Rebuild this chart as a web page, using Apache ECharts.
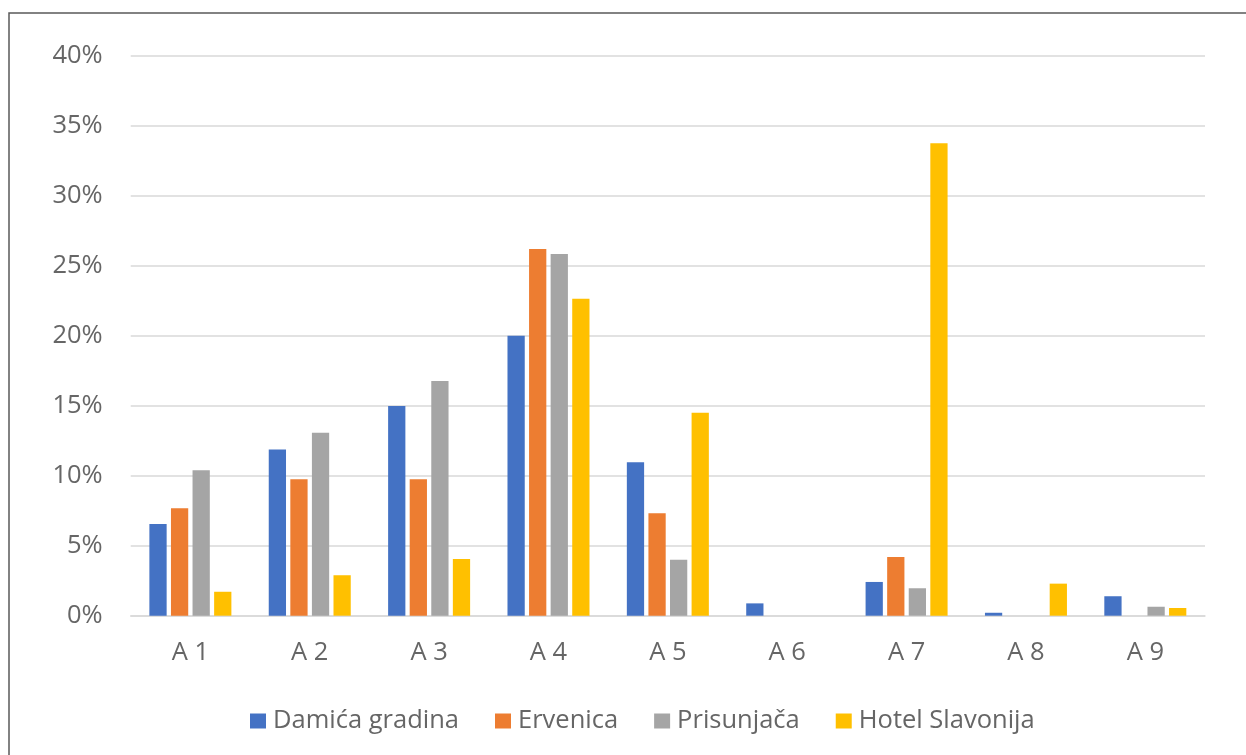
<!DOCTYPE html>
<html>
<head>
<meta charset="utf-8">
<script src="https://cdn.jsdelivr.net/npm/echarts@6/dist/echarts.min.js"></script>
<style>
html,body{margin:0;padding:0;background:#fff;}
#chart{width:1246px;height:755px;}
</style>
</head>
<body>
<div id="chart"></div>
<script>
const categories = ['A 1','A 2','A 3','A 4','A 5','A 6','A 7','A 8','A 9'];
const seriesNames = ['Damića gradina','Ervenica','Prisunjača','Hotel Slavonija'];
const damica = [6.55, 11.88, 14.98, 20.0, 10.96, 0.88, 2.41, 0.21, 1.39];
const ervenica = [7.67, 9.74, 9.74, 26.19, 7.31, 0, 4.19, 0, 0];
const prisunjaca = [10.39, 13.07, 16.76, 25.84, 4.0, 0, 1.96, 0, 0.64];
const hotelSlavonija = [1.71, 2.89, 4.05, 22.64, 14.5, 0, 33.74, 2.29, 0.55];
const yTicks = [0, 5, 10, 15, 20, 25, 30, 35, 40];

const colors = ['#4472C4','#ED7D31','#A5A5A5','#FFC000'];
const values = [damica, ervenica, prisunjaca, hotelSlavonija];
const textColor = '#666666';
const font = 'Open Sans';

const chart = echarts.init(document.getElementById('chart'));
chart.setOption({
  animation: false,
  backgroundColor: '#ffffff',
  color: colors,
  graphic: [{
    type: 'rect',
    shape: {x: 9, y: 13, width: 1400, height: 900},
    style: {fill: 'none', stroke: '#595959', lineWidth: 1.5},
    silent: true
  }],
  grid: {left: 130.7, right: 41, top: 55.7, bottom: 139.3},
  legend: {
    data: seriesNames,
    left: 245,
    top: 703,
    itemWidth: 16,
    itemHeight: 15,
    itemGap: 36,
    icon: 'rect',
    textStyle: {color: textColor, fontSize: 25.5, fontFamily: font, padding: [0,0,0,2]}
  },
  xAxis: {
    type: 'category',
    data: categories,
    axisLine: {show: true, lineStyle: {color: '#d9d9d9', width: 1.5}},
    axisTick: {show: false},
    axisLabel: {color: textColor, fontSize: 25.5, fontFamily: font, margin: 24}
  },
  yAxis: {
    type: 'value',
    min: 0,
    max: 40,
    interval: 5,
    axisLine: {show: false},
    axisTick: {show: false},
    splitLine: {lineStyle: {color: '#d9d9d9', width: 1.5}},
    axisLabel: {color: textColor, fontSize: 25.5, fontFamily: font, margin: 28,
      formatter: function(v){ return yTicks.indexOf(v) >= 0 ? v + '%' : ''; }}
  },
  series: seriesNames.map(function(name, i){
    return {
      name: name,
      type: 'bar',
      data: values[i],
      barGap: '25%',
      barCategoryGap: '31.3%',
      itemStyle: {color: colors[i]}
    };
  })
});
</script>
</body>
</html>
